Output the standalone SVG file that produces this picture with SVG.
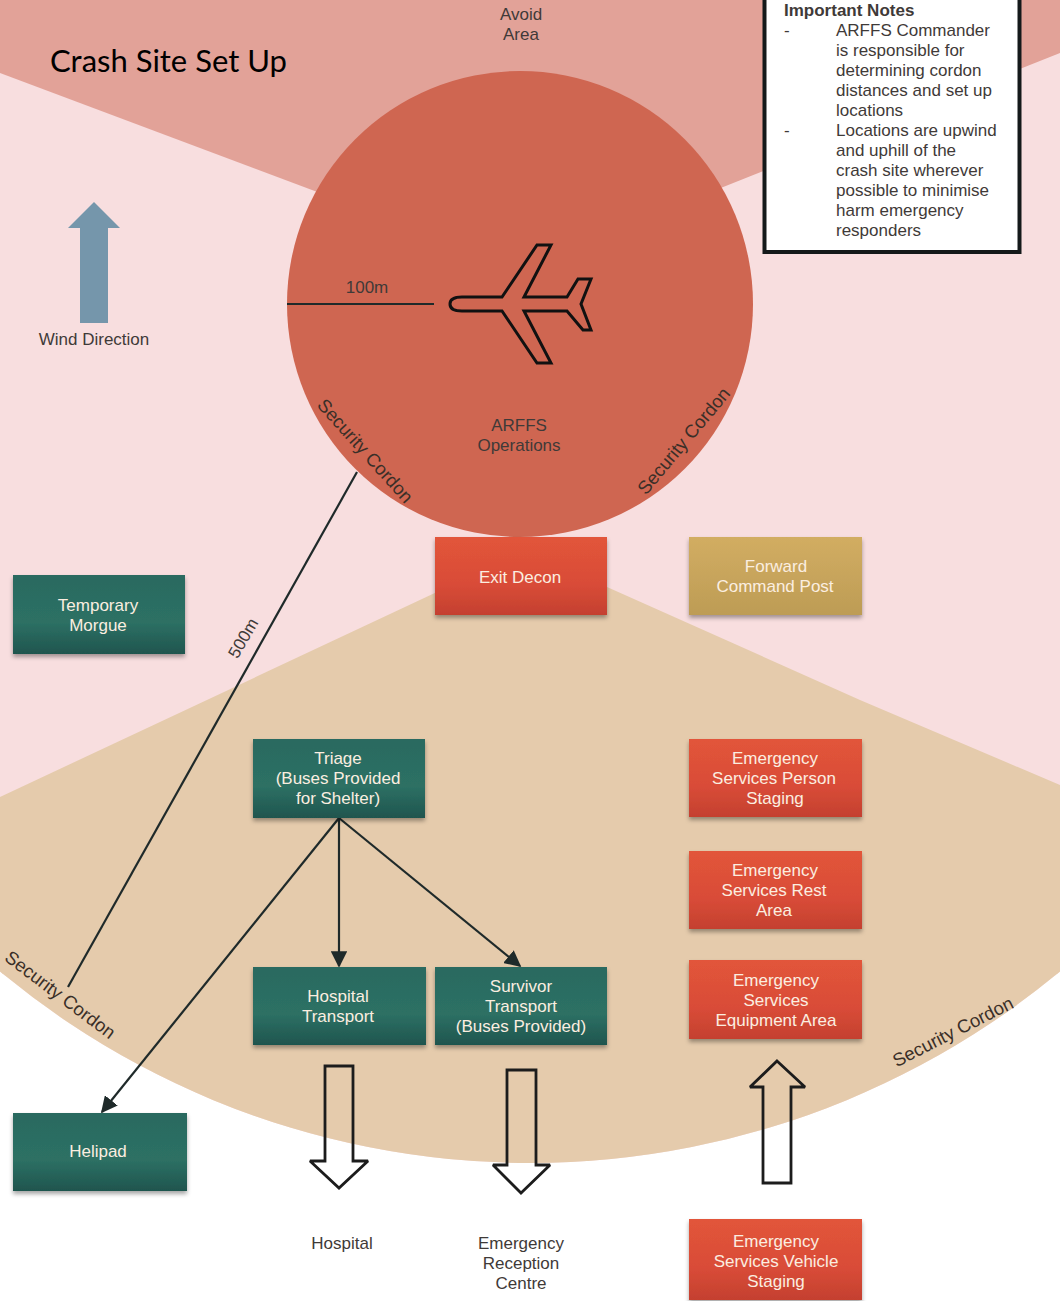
<svg xmlns="http://www.w3.org/2000/svg" width="1060" height="1301" viewBox="0 0 1060 1301">
<style>
text{font-family:"Liberation Sans",Arial,sans-serif;font-size:17px;fill:#3f3a38}
.c{text-anchor:middle}
.cord{font-size:18.500px;fill:#3a2f28}
.n text{text-anchor:middle;fill:#fbeee0}
.n rect{filter:url(#sh)}
.teal{fill:url(#gt)}.red{fill:url(#gr)}.gold{fill:url(#gg)}
.cn{fill:none;stroke:#1f2a2a;stroke-width:2.200}
.ha{fill:none;stroke:#1c1c1c;stroke-width:2.800;stroke-miterlimit:2}
</style>
<defs>
<linearGradient id="gt" x1="0" y1="0" x2="0" y2="1"><stop offset="0" stop-color="#2a6a60"/><stop offset=".6" stop-color="#2d7064"/><stop offset="1" stop-color="#1f554e"/></linearGradient>
<linearGradient id="gr" x1="0" y1="0" x2="0" y2="1"><stop offset="0" stop-color="#e2553a"/><stop offset=".6" stop-color="#d94c38"/><stop offset="1" stop-color="#c4402f"/></linearGradient>
<linearGradient id="gg" x1="0" y1="0" x2="0" y2="1"><stop offset="0" stop-color="#d2ad62"/><stop offset="1" stop-color="#bd9c55"/></linearGradient>
<filter id="sh" x="-5%" y="-5%" width="110%" height="120%"><feDropShadow dx="0" dy="3" stdDeviation="2" flood-color="#000" flood-opacity=".35"/></filter>
<marker id="ah" viewBox="0 0 10 10" refX="9" refY="5" markerWidth="7.500" markerHeight="7.500" orient="auto"><path d="M0 0L10 5L0 10z" fill="#1f2a2a"/></marker>
<clipPath id="big"><circle cx="530" cy="334" r="829"/></clipPath>
</defs>
<rect width="1060" height="1301" fill="#fff"/>
<g id="zones" clip-path="url(#big)">
<rect width="1060" height="1301" fill="#f8dedf"/>
<path d="M0 73L520 268L1060 53V0H0z" fill="#e2a298"/>
<path d="M0 797L520 553L607 587L860 700L1060 785V1301H0z" fill="#e5cbac"/>
</g>
<circle id="arffs-zone" cx="520" cy="304" r="233" fill="#cf6651"/>
<g id="plane"><path d="M462 297H502L537 245H551L524 297H567L578 279H591L581 304L591 330H583L567 311H524L551 363H537L502 311H462Q450 311 450 304Q450 297 462 297Z" fill="none" stroke="#111" stroke-width="3"/></g>
<g id="connectors">
<path class="cn" d="M287 304H434"/>
<path class="cn" d="M357 472L68 987"/>
<path class="cn" marker-end="url(#ah)" d="M339 818V966"/>
<path class="cn" marker-end="url(#ah)" d="M339 818L520 966"/>
<path class="cn" marker-end="url(#ah)" d="M339 818L102 1112"/>
</g>
<g id="wind"><path d="M94 202L120 228H108V323H80V228H68Z" fill="#7596ab"/><text class="c" x="94" y="345">Wind Direction</text></g>
<text id="title" x="50" y="72" style="font-family:Lato,sans-serif;font-size:31px;fill:#000">Crash Site Set Up</text>
<g id="labels">
<text class="c"><tspan x="521" y="20">Avoid</tspan><tspan x="521" y="40">Area</tspan></text>
<text class="c" x="367" y="293">100m</text>
<text class="c"><tspan x="519" y="431">ARFFS</tspan><tspan x="519" y="451">Operations</tspan></text>
<text class="c cord" transform="translate(365 451) rotate(48)" y="6">Security Cordon</text>
<text class="c cord" transform="translate(684 441) rotate(-50)" y="6">Security Cordon</text>
<text class="c cord" transform="translate(60 995) rotate(37)" y="6">Security Cordon</text>
<text class="c cord" transform="translate(953 1032) rotate(-27)" y="6">Security Cordon</text>
<text class="c" transform="translate(243 638) rotate(-60)" y="6">500m</text>
<text class="c" x="342" y="1249">Hospital</text>
<text class="c"><tspan x="521" y="1249">Emergency</tspan><tspan x="521" y="1269">Reception</tspan><tspan x="521" y="1289">Centre</tspan></text>
</g>
<g id="notes">
<rect x="764.500" y="-10" width="255" height="262" fill="#fff" stroke="#14191a" stroke-width="4"/>
<text x="784" y="16" style="font-weight:700">Important Notes</text>
<text x="784" y="36">-</text>
<text><tspan x="836" y="36">ARFFS Commander</tspan><tspan x="836" y="56">is responsible for</tspan><tspan x="836" y="76">determining cordon</tspan><tspan x="836" y="96">distances and set up</tspan><tspan x="836" y="116">locations</tspan></text>
<text x="784" y="136">-</text>
<text><tspan x="836" y="136">Locations are upwind</tspan><tspan x="836" y="156">and uphill of the</tspan><tspan x="836" y="176">crash site wherever</tspan><tspan x="836" y="196">possible to minimise</tspan><tspan x="836" y="216">harm emergency</tspan><tspan x="836" y="236">responders</tspan></text>
</g>
<g id="temporary-morgue" class="n"><rect class="teal" x="13" y="575" width="172" height="79"/><text><tspan x="98" y="611">Temporary</tspan><tspan x="98" y="631">Morgue</tspan></text></g>
<g id="exit-decon" class="n"><rect class="red" x="435" y="537" width="172" height="78"/><text x="520" y="583">Exit Decon</text></g>
<g id="forward-command-post" class="n"><rect class="gold" x="689" y="537" width="173" height="78"/><text><tspan x="776" y="572">Forward</tspan><tspan x="775" y="592">Command Post</tspan></text></g>
<g id="triage" class="n"><rect class="teal" x="253" y="739" width="172" height="79"/><text><tspan x="338" y="764">Triage</tspan><tspan x="338" y="784">(Buses Provided</tspan><tspan x="338" y="804">for Shelter)</tspan></text></g>
<g id="hospital-transport" class="n"><rect class="teal" x="253" y="967" width="173" height="78"/><text><tspan x="338" y="1002">Hospital</tspan><tspan x="338" y="1022">Transport</tspan></text></g>
<g id="survivor-transport" class="n"><rect class="teal" x="435" y="967" width="172" height="78"/><text><tspan x="521" y="992">Survivor</tspan><tspan x="521" y="1012">Transport</tspan><tspan x="521" y="1032">(Buses Provided)</tspan></text></g>
<g id="helipad" class="n"><rect class="teal" x="13" y="1113" width="174" height="78"/><text x="98" y="1157">Helipad</text></g>
<g id="es-person-staging" class="n"><rect class="red" x="689" y="739" width="173" height="78"/><text><tspan x="775" y="764">Emergency</tspan><tspan x="774" y="784">Services Person</tspan><tspan x="775" y="804">Staging</tspan></text></g>
<g id="es-rest-area" class="n"><rect class="red" x="689" y="851" width="173" height="78"/><text><tspan x="775" y="876">Emergency</tspan><tspan x="774" y="896">Services Rest</tspan><tspan x="774" y="916">Area</tspan></text></g>
<g id="es-equipment-area" class="n"><rect class="red" x="689" y="960" width="173" height="79"/><text><tspan x="776" y="986">Emergency</tspan><tspan x="776" y="1006">Services</tspan><tspan x="776" y="1026">Equipment Area</tspan></text></g>
<g id="es-vehicle-staging" class="n"><rect class="red" x="689" y="1219" width="173" height="81"/><text><tspan x="776" y="1247">Emergency</tspan><tspan x="776" y="1267">Services Vehicle</tspan><tspan x="776" y="1287">Staging</tspan></text></g>
<g id="flow-arrows">
<path class="ha" d="M325 1066H353V1161H368L339 1188L310 1161H325Z"/>
<path class="ha" d="M507 1070H536V1165H550L521 1193L493 1165H507Z"/>
<path class="ha" d="M777 1061L805 1087H791V1183H763V1087H750Z"/>
</g>
</svg>
